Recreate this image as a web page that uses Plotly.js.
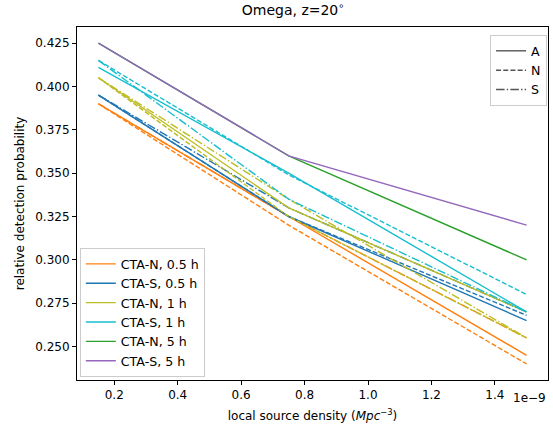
<!DOCTYPE html>
<html>
<head>
<meta charset="utf-8">
<script src="https://cdn.plot.ly/plotly-3.0.1.min.js"></script>
<style>html,body{margin:0;padding:0;background:#fff;}#chart{width:553px;height:427px;}</style>
</head>
<body>
<div id="chart"></div>
<script>
// local source density (Mpc^-3)
const density = [0.15e-9, 0.75e-9, 1.5e-9];

const seriesNames = ["CTA-N, 0.5 h", "CTA-S, 0.5 h", "CTA-N, 1 h", "CTA-S, 1 h", "CTA-N, 5 h", "CTA-S, 5 h"];
const seriesColors = ["#ff7f0e", "#1f77b4", "#bcbd22", "#17becf", "#2ca02c", "#9467bd"];

// relative detection probability: A (solid), N (dashed), S (dash-dot)
const cn05_A = [0.390, 0.325, 0.245];
const cn05_N = [0.390, 0.320, 0.240];
const cn05_S = [0.390, 0.325, 0.255];
const cs05_A = [0.395, 0.325, 0.265];
const cs05_N = [0.395, 0.325, 0.268];
const cs05_S = [0.395, 0.330, 0.270];
const cn1_A  = [0.405, 0.330, 0.270];
const cn1_N  = [0.405, 0.325, 0.255];
const cn1_S  = [0.405, 0.335, 0.255];
const cs1_A  = [0.411, 0.350, 0.270];
const cs1_N  = [0.415, 0.349, 0.280];
const cs1_S  = [0.415, 0.335, 0.270];
const cn5_A  = [0.425, 0.360, 0.300];
const cs5_A  = [0.425, 0.360, 0.320];

const styleNames = ["A", "N", "S"];

const seriesData = [
  [cn05_A, cn05_N, cn05_S],
  [cs05_A, cs05_N, cs05_S],
  [cn1_A, cn1_N, cn1_S],
  [cs1_A, cs1_N, cs1_S],
  [cn5_A, null, null],
  [cs5_A, null, null]
];

const dashes = ["solid", "5px,2.2px", "8.5px,2.2px,1.4px,2.2px"];
const LW = 1.4;

const traces = [];
seriesData.forEach((group, i) => {
  group.forEach((vals, j) => {
    if (!vals) return;
    traces.push({
      x: density, y: vals, type: "scatter", mode: "lines",
      line: {color: seriesColors[i], width: LW, dash: dashes[j]},
      showlegend: false, hoverinfo: "skip"
    });
  });
});
// legend 1: colours
seriesNames.forEach((n, i) => {
  traces.push({
    x: [null], y: [null], type: "scatter", mode: "lines", name: n,
    line: {color: seriesColors[i], width: LW}, legend: "legend", showlegend: true
  });
});
// legend 2: line styles
styleNames.forEach((n, j) => {
  traces.push({
    x: [null], y: [null], type: "scatter", mode: "lines", name: n,
    line: {color: "#555555", width: LW, dash: dashes[j]}, legend: "legend2", showlegend: true
  });
});

const xt = [0.2e-9, 0.4e-9, 0.6e-9, 0.8e-9, 1.0e-9, 1.2e-9, 1.4e-9];
const xtLabels = ["0.2", "0.4", "0.6", "0.8", "1.0", "1.2", "1.4"];
const yt = [0.250, 0.275, 0.300, 0.325, 0.350, 0.375, 0.400, 0.425];
const ytLabels = ["0.250", "0.275", "0.300", "0.325", "0.350", "0.375", "0.400", "0.425"];

const font = {family: "DejaVu Sans", size: 12, color: "#000"};
const legFont = {family: "DejaVu Sans", size: 12.6, color: "#000"};

const layout = {
  width: 553, height: 427,
  margin: {l: 77, r: 5, t: 27, b: 47},
  paper_bgcolor: "#fff", plot_bgcolor: "#fff",
  font: font,
  title: {text: "Omega, z=20<sup>∘</sup>", font: {family: "DejaVu Sans", size: 14, color: "#000"},
          x: 0.53, xanchor: "center", y: 0.988, yanchor: "top"},
  xaxis: {
    range: [0.0825e-9, 1.5675e-9], tickvals: xt, ticktext: xtLabels,
    showgrid: false, zeroline: false, showline: true, mirror: true, linecolor: "#000", linewidth: 1,
    ticks: "outside", ticklen: 4, tickwidth: 1, tickcolor: "#000", tickfont: font,
    title: {text: "local source density (<i>Mpc</i><sup>−3</sup>)", font: font, standoff: 10}
  },
  yaxis: {
    range: [0.23075, 0.43425], tickvals: yt, ticktext: ytLabels,
    showgrid: false, zeroline: false, showline: true, mirror: true, linecolor: "#000", linewidth: 1,
    ticks: "outside", ticklen: 4, tickwidth: 1, tickcolor: "#000", tickfont: font,
    title: {text: "relative detection probability", font: font, standoff: 8}
  },
  legend: {
    x: 0.006, y: 0.008, xanchor: "left", yanchor: "bottom",
    bgcolor: "rgba(255,255,255,0.8)", bordercolor: "#cccccc", borderwidth: 1,
    font: legFont, tracegroupgap: 0
  },
  legend2: {
    x: 0.998, y: 0.977, xanchor: "right", yanchor: "top",
    bgcolor: "rgba(255,255,255,0.8)", bordercolor: "#cccccc", borderwidth: 1,
    font: legFont, tracegroupgap: 0
  },
  annotations: [{
    text: "1e−9", xref: "paper", yref: "paper", x: 1.0, y: -0.025,
    xanchor: "right", yanchor: "top", showarrow: false, font: font
  }]
};

Plotly.newPlot("chart", traces, layout, {displayModeBar: false, staticPlot: true});
</script>
</body>
</html>
